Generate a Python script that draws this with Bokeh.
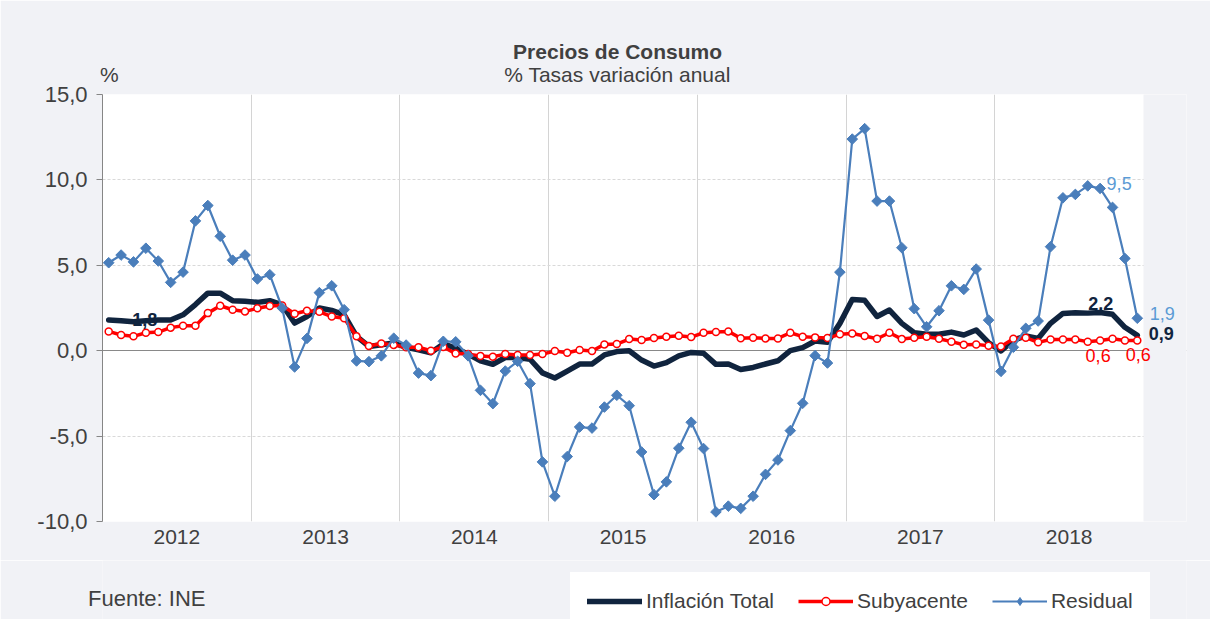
from bokeh.plotting import figure
from bokeh.layouts import column
from bokeh.models import (ColumnDataSource, FixedTicker, Label, Legend, LegendItem,
                          Range1d, LinearAxis, Grid)
from bokeh.embed import file_html
from bokeh.resources import INLINE
import math

# ---------------- data ----------------
years = ["2012", "2013", "2014", "2015", "2016", "2017", "2018"]

inflacion_total = [
    1.8, 1.76, 1.7, 1.75, 1.8, 1.8, 2.1, 2.7, 3.37, 3.37, 2.93, 2.89,
    2.83, 2.93, 2.69, 1.62, 2.0, 2.5, 2.36, 2.1, 0.84, 0.25, 0.35, 0.45,
    0.2, 0.05, -0.12, 0.4, 0.15, -0.2, -0.6, -0.8, -0.4, -0.4, -0.5, -1.3,
    -1.6, -1.2, -0.78, -0.78, -0.25, -0.05, 0.0, -0.55, -0.9, -0.7, -0.3, -0.1,
    -0.15, -0.8, -0.78, -1.1, -0.98, -0.78, -0.59, 0.0, 0.18, 0.57, 0.5, 1.6,
    3.0, 2.95, 2.0, 2.38, 1.6, 1.05, 0.96, 0.96, 1.09, 0.92, 1.21, 0.47,
    -0.02, 0.62, 0.86, 0.72, 1.6, 2.18, 2.22, 2.2, 2.24, 2.13, 1.37, 0.9,
]
subyacente = [
    1.13, 0.92, 0.84, 1.05, 1.09, 1.35, 1.46, 1.46, 2.2, 2.63, 2.4, 2.3,
    2.48, 2.62, 2.65, 2.16, 2.34, 2.28, 2.0, 1.9, 0.84, 0.28, 0.42, 0.34,
    0.2, 0.2, 0.0, 0.22, -0.17, -0.2, -0.31, -0.35, -0.2, -0.25, -0.25, -0.2,
    -0.02, -0.12, 0.04, -0.02, 0.37, 0.39, 0.68, 0.62, 0.74, 0.82, 0.88, 0.8,
    1.05, 1.09, 1.13, 0.73, 0.76, 0.72, 0.72, 1.05, 0.82, 0.78, 0.74, 0.96,
    1.01, 0.86, 0.7, 1.05, 0.68, 0.76, 0.82, 0.7, 0.53, 0.35, 0.37, 0.29,
    0.25, 0.7, 0.76, 0.49, 0.66, 0.66, 0.66, 0.53, 0.6, 0.7, 0.6, 0.6,
]
residual = [
    5.15, 5.6, 5.2, 6.0, 5.25, 4.0, 4.6, 7.6, 8.5, 6.7, 5.3, 5.6,
    4.2, 4.45, 2.5, -0.95, 0.72, 3.4, 3.8, 2.4, -0.6, -0.64, -0.3, 0.73,
    0.33, -1.31, -1.46, 0.55, 0.52, -0.3, -2.32, -3.1, -1.19, -0.62, -1.93, -6.51,
    -8.52, -6.2, -4.47, -4.53, -3.3, -2.61, -3.22, -5.93, -8.43, -7.68, -5.71, -4.19,
    -5.73, -9.44, -9.1, -9.23, -8.52, -7.24, -6.4, -4.68, -3.08, -0.29, -0.72, 4.6,
    12.39, 13.0, 8.76, 8.76, 6.03, 2.46, 1.4, 2.34, 3.8, 3.59, 4.78, 1.79,
    -1.21, 0.2, 1.31, 1.74, 6.09, 8.95, 9.15, 9.65, 9.5, 8.39, 5.4, 1.9,
]

y_ticks = [-10, -5, 0, 5, 10, 15]
y_tick_labels = ["-10,0", "-5,0", "0,0", "5,0", "10,0", "15,0"]

# ---------------- styling ----------------
C_TOTAL = "#10243e"
C_SUB = "#ff0000"
C_RES = "#4a7ebb"
C_RES_LABEL = "#5b9bd5"
C_TEXT = "#404040"
BG = "#f1f2f6"
FONT = "Liberation Sans"

W = 1210
MAIN_H, BOT_H = 560, 59
FRAME_L = 102             # left edge of the plot frame (shared by both rows)
DATA_W_PX = 1041          # width in px of the 84-month plot area
FRAME_W_PX = 1084         # frame a bit wider so the point labels at the right fit
FRAME_R = FRAME_L + FRAME_W_PX

TOT_STYLE = dict(line_color=C_TOTAL, line_width=5.5, line_join="round", line_cap="round")
SUB_STYLE = dict(line_color=C_SUB, line_width=3.5, line_join="round")
SUB_MARK = dict(marker="circle", size=7, fill_color="white", line_color=C_SUB, line_width=1.5)
RES_STYLE = dict(line_color=C_RES, line_width=2.2, line_join="round")
RES_MARK = dict(marker="square", angle=math.pi / 4, size=7.5, fill_color=C_RES,
                line_color=C_RES, line_width=1)
RES_MARK_LEGEND = dict(marker="diamond", size=12, fill_color=C_RES, line_color=C_RES,
                       line_width=1)


def text_axis(ticks_to_text, size, standoff, bold=False):
    ax = LinearAxis(ticker=FixedTicker(ticks=list(ticks_to_text)),
                    major_label_overrides=dict(ticks_to_text))
    ax.axis_line_color = None
    ax.major_tick_line_color = None
    ax.minor_tick_line_color = None
    ax.major_tick_out = 0
    ax.minor_tick_out = 0
    ax.major_label_standoff = standoff
    ax.major_label_text_font = FONT
    ax.major_label_text_font_size = size
    ax.major_label_text_color = C_TEXT
    if bold:
        ax.major_label_text_font_style = "bold"
    return ax


# ---------------- main chart ----------------
n = len(inflacion_total)
months_per_year = 12
x = [i + 0.5 for i in range(n)]
src = ColumnDataSource(dict(x=x, total=inflacion_total, sub=subyacente, res=residual))
x_end = n * FRAME_W_PX / DATA_W_PX
px = DATA_W_PX / n        # pixels per month, used to place header texts

p = figure(width=W, height=MAIN_H, output_backend="svg", toolbar_location=None,
           x_range=Range1d(0, x_end), y_range=Range1d(y_ticks[0], y_ticks[-1]),
           min_border_left=FRAME_L, min_border_right=W - FRAME_R, min_border_top=94,
           min_border_bottom=39, x_axis_location=None, y_axis_location=None)
p.border_fill_color = BG
p.background_fill_color = "#ffffff"
p.outline_line_color = None

yax = LinearAxis(ticker=FixedTicker(ticks=y_ticks),
                 major_label_overrides={t: l for t, l in zip(y_ticks, y_tick_labels)})
yax.axis_line_color = "#868686"
yax.major_tick_line_color = "#868686"
yax.major_tick_out = 6
yax.major_tick_in = 0
yax.minor_tick_line_color = None
yax.major_label_standoff = 9
yax.major_label_text_font = FONT
yax.major_label_text_font_size = "22px"
yax.major_label_text_color = C_TEXT
p.add_layout(yax, "left")

year_centers = [months_per_year * i + months_per_year / 2 for i in range(len(years))]
xax = text_axis({c: y for c, y in zip(year_centers, years)}, "21px", 8)
p.add_layout(xax, "below")

# header rows: subtitle + "%" (closest to the frame), then the bold title
title_x = round((617 - FRAME_L) / px, 2)
pct_x = round((109 - FRAME_L) / px, 2)
p.add_layout(text_axis({pct_x: "%", title_x: "% Tasas variación anual"}, "21px", 9), "above")
p.add_layout(text_axis({title_x: "Precios de Consumo"}, "21px", -3, bold=True), "above")

p.xgrid.ticker = FixedTicker(ticks=[months_per_year * i for i in range(1, len(years))])
p.xgrid.grid_line_color = "#d4d4d4"
p.xgrid.grid_line_width = 1
p.ygrid.ticker = FixedTicker(ticks=[t for t in y_ticks if t != 0])
p.ygrid.grid_line_color = "#d9d9d9"
p.ygrid.grid_line_dash = "3 2"
p.ygrid.grid_line_width = 1
p.add_layout(Grid(dimension=1, ticker=FixedTicker(ticks=[0]), grid_line_color="#898989",
                  grid_line_width=1))

# area right of the last month shows the panel background
p.quad(left=n, right=x_end + 1, bottom=y_ticks[0] - 1, top=y_ticks[-1] + 1,
       fill_color=BG, line_color=None)

r_tot = p.line("x", "total", source=src, **TOT_STYLE)
r_sub = p.line("x", "sub", source=src, **SUB_STYLE)
p.scatter("x", "sub", source=src, **SUB_MARK)
r_res = p.line("x", "res", source=src, **RES_STYLE)
p.scatter("x", "res", source=src, **RES_MARK)


def fmt(v):
    return f"{v:.1f}".replace(".", ",")


def point_label(series, idx, dx, dy, color, bold=False, size="18px"):
    p.add_layout(Label(x=x[idx], y=series[idx], text=fmt(series[idx]), x_offset=dx, y_offset=dy,
                       text_align="center", text_baseline="middle", text_color=color,
                       text_font=FONT, text_font_size=size,
                       text_font_style="bold" if bold else "normal"))


point_label(inflacion_total, 0, 36, 0, C_TOTAL, bold=True)
point_label(inflacion_total, 79, 13, 10, C_TOTAL, bold=True)
point_label(inflacion_total, n - 1, 24, 2, C_TOTAL, bold=True)
point_label(residual, 80, 19, 5, C_RES_LABEL)
point_label(residual, n - 1, 25, 5, C_RES_LABEL)
point_label(subyacente, 80, -2, -15, C_SUB)
point_label(subyacente, n - 1, 1, -14, C_SUB)

# ---------------- footer: source + legend ----------------
bot = figure(width=W, height=BOT_H, output_backend="svg", toolbar_location=None,
             x_range=Range1d(FRAME_L, FRAME_R), y_range=Range1d(BOT_H, 0),
             min_border_left=FRAME_L, min_border_right=W - FRAME_R,
             min_border_top=0, min_border_bottom=0,
             x_axis_location=None, y_axis_location=None)
bot.background_fill_color = BG
bot.border_fill_color = BG
bot.outline_line_color = None
bot.xgrid.visible = False
bot.ygrid.visible = False

SRC_Y = 38
bot.add_layout(text_axis({SRC_Y: "Fuente: INE"}, "22px", -103), "left")

# legend swatches (single NaN point each: nothing is drawn in the footer itself)
nan = [math.nan]
l_tot = bot.line(nan, nan, **TOT_STYLE)
l_sub = bot.line(nan, nan, **SUB_STYLE)
m_sub = bot.scatter(nan, nan, **SUB_MARK)
l_res = bot.line(nan, nan, **RES_STYLE)
m_res = bot.scatter(nan, nan, **RES_MARK_LEGEND)

legend = Legend(items=[
    LegendItem(label="Inflación Total", renderers=[l_tot]),
    LegendItem(label="Subyacente", renderers=[l_sub, m_sub]),
    LegendItem(label="Residual", renderers=[l_res, m_res]),
], location=(570 - FRAME_L, -11), orientation="horizontal")
legend.background_fill_color = "white"
legend.background_fill_alpha = 1
legend.border_line_color = "white"
legend.border_line_width = 1
legend.padding = 16
legend.margin = 0
legend.spacing = 24
legend.glyph_width = 55
legend.glyph_height = 20
legend.label_height = 20
legend.label_standoff = 4
legend.label_text_font = FONT
legend.label_text_font_size = "21px"
legend.label_text_color = C_TEXT
bot.add_layout(legend)

layout = column(p, bot, spacing=0)
open("out.html", "w").write(file_html(layout, INLINE))
